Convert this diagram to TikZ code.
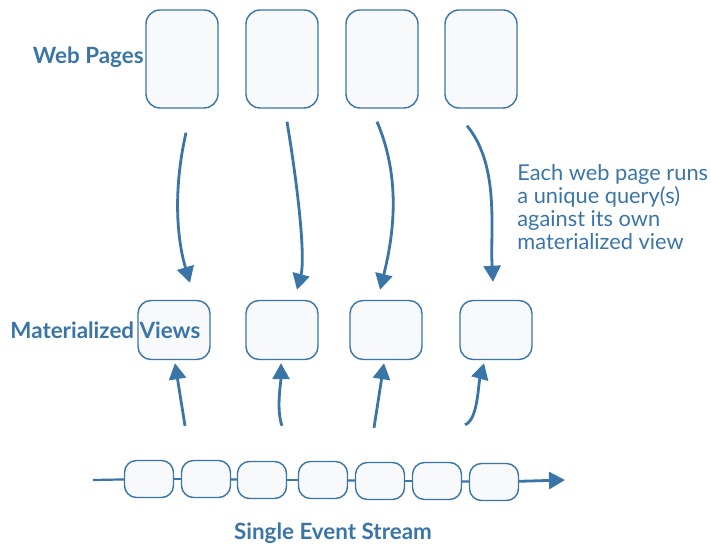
\documentclass[tikz,border=0pt]{standalone}
\usepackage{fontspec}
\setmainfont{Lato}
\usetikzlibrary{positioning,arrows.meta}
\definecolor{ink}{HTML}{3A75A8}
\definecolor{paper}{HTML}{F7F9FA}

\begin{document}
\begin{tikzpicture}[
  x=0.5pt, y=-0.5pt,
  font=\fontsize{11}{13}\selectfont,
  >={Triangle[length=8pt,width=8.5pt]},
  box/.style={draw=ink, fill=paper, rounded corners=7pt, line width=0.7pt, inner sep=0pt},
  page/.style={box, minimum width=36pt, minimum height=49pt},
  view/.style={box, minimum width=36pt, minimum height=29.5pt, rounded corners=6.5pt},
  event/.style={box, minimum width=24.5pt, minimum height=18.5pt, rounded corners=6pt},
  flow/.style={->, draw=ink, line width=1.4pt},
  link/.style={draw=ink, line width=1.1pt},
  lbl/.style={text=ink, font=\fontsize{11.2}{13}\selectfont\bfseries, inner sep=0pt},
  note/.style={text=ink, align=left, inner sep=0pt, font=\fontsize{10.9}{11.6}\selectfont},
]
\useasboundingbox (0,0) rectangle (711,544);

% --- Web pages (top row) ----------------------------------------------------
\foreach \i/\x in {1/182, 2/282, 3/382, 4/481}
  \node[page] (wp\i) at (\x, 59) {};
\node[lbl, anchor=east] (weblbl) at (144, 57) {Web Pages};

% --- Materialized views (middle row) ----------------------------------------
\foreach \i/\x in {1/174, 2/282, 3/386, 4/496}
  \node[view] (mv\i) at (\x, 330) {};
\node[lbl, anchor=west] (viewlbl) at (10, 330) {Materialized Views};

% --- Queries: each page reads its own view ----------------------------------
\draw[flow] ([shift={(4,24)}]wp1.south) .. controls +(-14,62) and +(-12,-40) .. ([shift={(16,-17)}]mv1.north);
\draw[flow] ([shift={(5,13)}]wp2.south) .. controls +(13,79) and +(8,-30) .. ([shift={(15,-10)}]mv2.north);
\draw[flow] ([shift={(-5,13)}]wp3.south) .. controls +(23,54) and +(15,-60) .. ([shift={(-6,-10)}]mv3.north);
\draw[flow] ([shift={(-14,17)}]wp4.south) .. controls +(33,40) and +(-3,-52) .. ([shift={(-3,-18)}]mv4.north);

\node[note, anchor=west] (querynote) at (517, 207)
  {Each web page runs\\a unique query(s)\\against its own\\materialized view};

% --- Single event stream (bottom) -------------------------------------------
\foreach \i/\x/\y in {1/149/479, 2/206/479, 3/262/480, 4/323/480, 5/380/481, 6/437/481, 7/494/482}
  \node[event] (ev\i) at (\x, \y) {};
\coordinate (src) at (93, 480);
\coordinate (sink) at (565, 480);
\draw[link] (src) -- (ev1);
\foreach \i [evaluate=\i as \j using int(\i+1)] in {1,...,6}
  \draw[link] (ev\i) -- (ev\j);
\draw[flow] (ev7) -- (sink);
\node[lbl] (streamlbl) at (333, 533) {Single Event Stream};

% --- Stream feeds every view ------------------------------------------------
\draw[flow] ([shift={(-21,-34)}]ev2.north) -- ([shift={(1,3)}]mv1.south);
\draw[flow] ([shift={(20,-35)}]ev3.north) .. controls +(-6,-16) and +(0,18) .. ([shift={(-1,3)}]mv2.south);
\draw[flow] ([shift={(-6,-34)}]ev5.north) -- ([shift={(-2,3)}]mv3.south);
\draw[flow] ([shift={(-29,-38)}]ev7.north) .. controls +(13,-5) and +(-6,22) .. ([shift={(-12,3)}]mv4.south);

\end{tikzpicture}
\end{document}
